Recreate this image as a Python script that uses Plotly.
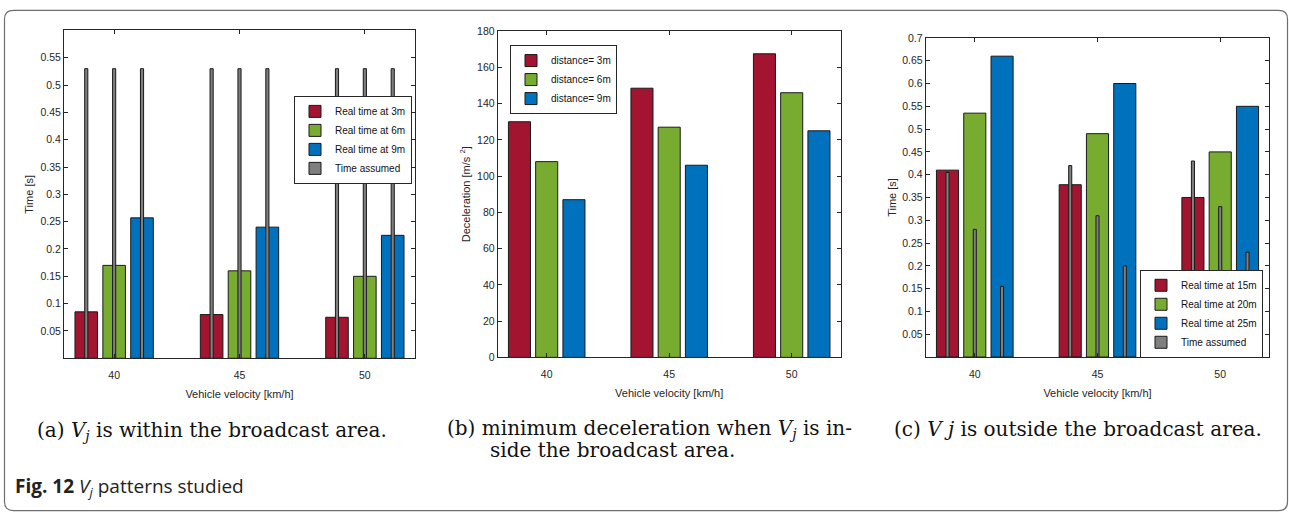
import plotly.graph_objects as go

W, H = 1289, 520

# ---------------- data ----------------
categories = ["40", "45", "50"]

# (a) V_j within broadcast area
a_real_3m = [0.085, 0.08, 0.075]
a_real_6m = [0.17, 0.16, 0.15]
a_real_9m = [0.257, 0.24, 0.225]
a_time_assumed = [0.53, 0.53, 0.53]

# (b) minimum deceleration
b_dist_3m = [130, 148.5, 167.5]
b_dist_6m = [108, 127, 146]
b_dist_9m = [87, 106, 125]

# (c) V_j outside broadcast area
c_real_15m = [0.41, 0.378, 0.35]
c_real_20m = [0.535, 0.49, 0.45]
c_real_25m = [0.66, 0.60, 0.55]
c_assumed_15m = [0.405, 0.42, 0.43]
c_assumed_20m = [0.28, 0.31, 0.33]
c_assumed_25m = [0.155, 0.20, 0.23]

a_yticks = [0.05, 0.1, 0.15, 0.2, 0.25, 0.3, 0.35, 0.4, 0.45, 0.5, 0.55]
b_yticks = [0, 20, 40, 60, 80, 100, 120, 140, 160, 180]
c_yticks = [0.05, 0.1, 0.15, 0.2, 0.25, 0.3, 0.35, 0.4, 0.45, 0.5, 0.55, 0.6, 0.65, 0.7]

# ---------------- style ----------------
RED, GREEN, BLUE, GRAY = "#A2142F", "#77AC30", "#0072BD", "#7F7F7F"
EDGE = "#1a1a1a"
AX = "#262626"
TICKFONT = dict(family="Liberation Sans, Arial, sans-serif", size=10.5, color=AX)
TITLEFONT = dict(family="Liberation Sans, Arial, sans-serif", size=11, color=AX)
LEGFONT = dict(family="Liberation Sans, Arial, sans-serif", size=10, color="#111")
GRAY_W = 0.025


def px_x(p):
    return p / W


def px_y(p):
    return 1 - p / H


fig = go.Figure()


def add_bar(xa, ya, y, name, color, group, legend, show=True, width=None, lgroup=None):
    fig.add_trace(go.Bar(
        x=categories, y=y, name=name, xaxis=xa, yaxis=ya,
        marker=dict(color=color, line=dict(color=EDGE, width=1)),
        offsetgroup=group, width=width, legend=legend, showlegend=show,
        legendgroup=lgroup, hoverinfo="x+y+name",
    ))


# panel a
add_bar("x", "y", a_real_3m, "Real time at 3m", RED, "g1", "legend")
add_bar("x", "y", a_real_6m, "Real time at 6m", GREEN, "g2", "legend")
add_bar("x", "y", a_real_9m, "Real time at 9m", BLUE, "g3", "legend")
for i, g in enumerate(["g1", "g2", "g3"]):
    add_bar("x", "y", a_time_assumed, "Time assumed", GRAY, g, "legend",
            show=(i == 0), width=GRAY_W, lgroup="ta")

# panel b
add_bar("x2", "y2", b_dist_3m, "distance= 3m", RED, "h1", "legend2")
add_bar("x2", "y2", b_dist_6m, "distance= 6m", GREEN, "h2", "legend2")
add_bar("x2", "y2", b_dist_9m, "distance= 9m", BLUE, "h3", "legend2")

# panel c
add_bar("x3", "y3", c_real_15m, "Real time at 15m", RED, "k1", "legend3")
add_bar("x3", "y3", c_real_20m, "Real time at 20m", GREEN, "k2", "legend3")
add_bar("x3", "y3", c_real_25m, "Real time at 25m", BLUE, "k3", "legend3")
for i, (g, vals) in enumerate(zip(["k1", "k2", "k3"], [c_assumed_15m, c_assumed_20m, c_assumed_25m])):
    add_bar("x3", "y3", vals, "Time assumed", GRAY, g, "legend3",
            show=(i == 0), width=GRAY_W, lgroup="tc")


def xaxis(domain, anchor):
    return dict(
        domain=domain, anchor=anchor, type="category", range=[-0.4, 2.4],
        showline=True, linecolor=AX, linewidth=1, mirror="ticks",
        ticks="inside", ticklen=4, tickcolor=AX, tickfont=TICKFONT,
        ticklabelstandoff=7,
        showgrid=False, zeroline=False, fixedrange=True,
        title=dict(text="Vehicle velocity [km/h]", font=TITLEFONT, standoff=10),
    )


def yaxis(domain, anchor, rng, tickvals, title, standoff):
    return dict(
        domain=domain, anchor=anchor, range=rng, tickvals=tickvals,
        showline=True, linecolor=AX, linewidth=1, mirror="ticks",
        ticks="inside", ticklen=4, tickcolor=AX, tickfont=TICKFONT,
        showgrid=False, zeroline=False, fixedrange=True,
        title=dict(text=title, font=TITLEFONT, standoff=standoff),
    )


LEG = dict(xanchor="left", yanchor="top", bgcolor="white", bordercolor=AX,
           borderwidth=1, font=LEGFONT, itemwidth=30, tracegroupgap=0,
           traceorder="normal")

fig.update_layout(
    width=W, height=H, margin=dict(l=0, r=0, t=0, b=0),
    paper_bgcolor="white", plot_bgcolor="white",
    barmode="group", bargap=0.333, bargroupgap=0.19,
    xaxis=xaxis([px_x(64), px_x(415)], "y"),
    yaxis=yaxis([px_y(360.6), px_y(25)], "x", [0, 0.6], a_yticks, "Time [s]", 4),
    xaxis2=xaxis([px_x(497.7), px_x(840.7)], "y2"),
    yaxis2=yaxis([px_y(359.7), px_y(25.7)], "x2", [0, 180], b_yticks,
                 "Deceleration [m/s <sup>2</sup>]", 4),
    xaxis3=xaxis([px_x(925.7), px_x(1269.3)], "y3"),
    yaxis3=yaxis([px_y(359.3), px_y(32.7)], "x3", [0, 0.7], c_yticks, "Time [s]", 3),
    legend=dict(LEG, x=px_x(294), y=px_y(92)),
    legend2=dict(LEG, x=px_x(510), y=px_y(40)),
    legend3=dict(LEG, x=px_x(1140), y=px_y(270)),
    showlegend=True,
)

# ---------------- captions ----------------
SERIF = dict(family="DejaVu Serif, serif", size=20, color="#111")
VJ = "<i>V</i><sub><i>j</i></sub>"
caps = [
    ("(a) " + VJ + " is within the broadcast area.", 35, 435),
    ("(b) minimum deceleration when " + VJ + " is in-", 445, 433),
    ("side the broadcast area.", 487.7, 454),
    ("(c) <i>V j</i> is outside the broadcast area.", 891.7, 433),
]
for txt, x, y in caps:
    fig.add_annotation(text=txt, x=px_x(x), y=px_y(y), xref="paper", yref="paper",
                       xanchor="left", yanchor="middle", showarrow=False, font=SERIF)

fig.add_annotation(
    text="<b>Fig. 12</b> " + VJ + " patterns studied",
    x=px_x(13), y=px_y(492), xref="paper", yref="paper", xanchor="left", yanchor="middle",
    showarrow=False,
    font=dict(family="Open Sans, sans-serif", size=19, color="#222"),
)

# ---------------- outer rounded frame ----------------
x0, x1, y0, y1, r = 4.5, 1287.5, 4.5, 516.5, 9


def P(x, y):
    return f"{px_x(x):.5f},{px_y(y):.5f}"


path = (f"M {P(x0 + r, y0)} L {P(x1 - r, y0)} Q {P(x1, y0)} {P(x1, y0 + r)} "
        f"L {P(x1, y1 - r)} Q {P(x1, y1)} {P(x1 - r, y1)} "
        f"L {P(x0 + r, y1)} Q {P(x0, y1)} {P(x0, y1 - r)} "
        f"L {P(x0, y0 + r)} Q {P(x0, y0)} {P(x0 + r, y0)} Z")
fig.add_shape(type="path", path=path, xref="paper", yref="paper",
              line=dict(color="#6e6e6e", width=1.2), layer="below")

fig.write_html(
    "out.html",
    config={"displayModeBar": False},
    post_script="document.body.style.margin='0';document.body.style.overflow='hidden';",
)
